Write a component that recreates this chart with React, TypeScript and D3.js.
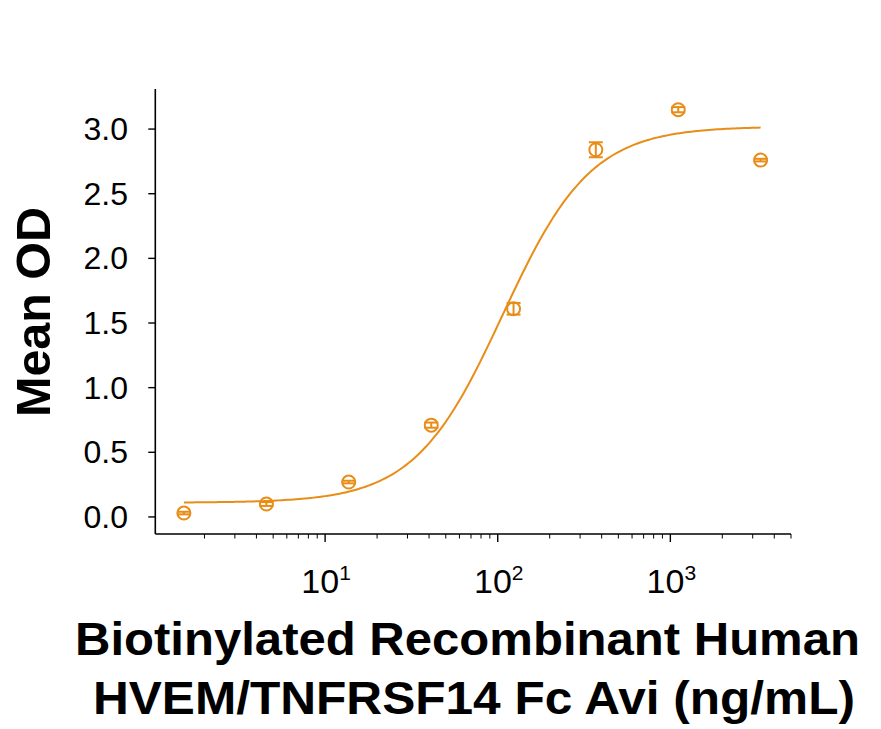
import React from "react";
import * as d3 from "d3";

// Concentration series (ng/mL), 3-fold dilutions
const concentrations = [1.52, 4.57, 13.7, 41.2, 123.5, 370, 1111, 3333];
// Mean optical density at each concentration
const meanOD = [0.03, 0.1, 0.27, 0.71, 1.61, 2.84, 3.15, 2.76];
// Standard deviation of each mean
const errorOD = [0.01, 0.015, 0.01, 0.02, 0.045, 0.058, 0.02, 0.01];

// Four-parameter logistic fit of the series
const fitBottom = 0.11;
const fitTop = 3.02;
const fitEC50 = 107;
const fitHill = 1.7;

const yTicks = [0, 0.5, 1.0, 1.5, 2.0, 2.5, 3.0];
const xMajorTicks = [10, 100, 1000];
const xMajorExponents = ["1", "2", "3"];

const yTitle = "Mean OD";
const xTitleLines = [
  "Biotinylated Recombinant Human",
  "HVEM/TNFRSF14 Fc Avi (ng/mL)",
];

const W = 881;
const H = 729;
const ORANGE = "#E88D17";
const FONT = "'Liberation Sans', Arial, Helvetica, sans-serif";

const logistic = (c: number) =>
  fitBottom + (fitTop - fitBottom) / (1 + Math.pow(fitEC50 / c, fitHill));

export default function App() {
  const x = d3.scaleLog().domain([1.038, 5000]).range([155.3, 791]);
  const y = d3.scaleLinear().domain([-0.132, 3.31]).range([534, 89]);

  // minor ticks for every decade inside the domain
  const minorTicks: number[] = [];
  for (let e = 0; e <= 3; e++) {
    for (let m = 2; m <= 9; m++) {
      const v = m * Math.pow(10, e);
      if (v >= x.domain()[0] && v <= x.domain()[1]) minorTicks.push(v);
    }
  }

  // fitted curve sampled in log space between the first and last concentration
  const lo = Math.log10(concentrations[0]);
  const hi = Math.log10(concentrations[concentrations.length - 1]);
  const curvePts = d3.range(0, 201).map((i) => {
    const c = Math.pow(10, lo + ((hi - lo) * i) / 200);
    return [c, logistic(c)] as [number, number];
  });
  const line = d3
    .line<[number, number]>()
    .x((d) => x(d[0]))
    .y((d) => y(d[1]));

  const axisY0 = y.range()[0];
  const axisX0 = x.range()[0];

  return (
    <svg
      width={W}
      height={H}
      viewBox={`0 0 ${W} ${H}`}
      style={{ position: "absolute", left: 0, top: 0, display: "block", background: "#fff" }}
      fontFamily={FONT}
    >
      <rect width={W} height={H} fill="#fff" />

      {/* y axis */}
      <line x1={axisX0} x2={axisX0} y1={y.range()[1]} y2={axisY0} stroke="#000" strokeWidth={1.6} />
      {yTicks.map((t) => (
        <g key={t}>
          <line x1={axisX0 - 7} x2={axisX0} y1={y(t)} y2={y(t)} stroke="#000" strokeWidth={1.4} />
          <text x={128} y={y(t)} dy="0.34em" textAnchor="end" fontSize={32} fill="#000">
            {t.toFixed(1)}
          </text>
        </g>
      ))}

      {/* x axis */}
      <line x1={axisX0} x2={x.range()[1]} y1={axisY0} y2={axisY0} stroke="#000" strokeWidth={1.6} />
      {minorTicks.map((t) => (
        <line key={t} x1={x(t)} x2={x(t)} y1={axisY0} y2={axisY0 + 4.5} stroke="#000" strokeWidth={1} />
      ))}
      {xMajorTicks.map((t, i) => (
        <g key={t}>
          <line x1={x(t)} x2={x(t)} y1={axisY0} y2={axisY0 + 8} stroke="#000" strokeWidth={1.4} />
          <text x={x(t) + 1} y={593} textAnchor="middle" fontSize={34} fill="#000">
            10
            <tspan fontSize={21} dy={-13}>
              {xMajorExponents[i]}
            </tspan>
          </text>
        </g>
      ))}

      {/* fitted curve */}
      <path d={line(curvePts) ?? ""} fill="none" stroke={ORANGE} strokeWidth={2} />

      {/* data points with error bars */}
      {concentrations.map((c, i) => {
        const cx = x(c);
        const cy = y(meanOD[i]);
        const yTop = y(meanOD[i] + errorOD[i]);
        const yBot = y(meanOD[i] - errorOD[i]);
        return (
          <g key={c} stroke={ORANGE} strokeWidth={2} fill="none">
            <line x1={cx} x2={cx} y1={yTop} y2={yBot} />
            <line x1={cx - 7} x2={cx + 7} y1={yTop} y2={yTop} />
            <line x1={cx - 7} x2={cx + 7} y1={yBot} y2={yBot} />
            <circle cx={cx} cy={cy} r={6.5} />
          </g>
        );
      })}

      {/* axis titles */}
      <text
        transform={`translate(50, 312) rotate(-90)`}
        textAnchor="middle"
        fontSize={48}
        fontWeight="bold"
        fill="#000"
        textLength={210}
        lengthAdjust="spacingAndGlyphs"
      >
        {yTitle}
      </text>
      <text
        x={75}
        y={655}
        fontSize={46}
        fontWeight="bold"
        fill="#000"
        textLength={785}
        lengthAdjust="spacingAndGlyphs"
      >
        {xTitleLines[0]}
      </text>
      <text
        x={93}
        y={714}
        fontSize={46}
        fontWeight="bold"
        fill="#000"
        textLength={762}
        lengthAdjust="spacingAndGlyphs"
      >
        {xTitleLines[1]}
      </text>
    </svg>
  );
}
